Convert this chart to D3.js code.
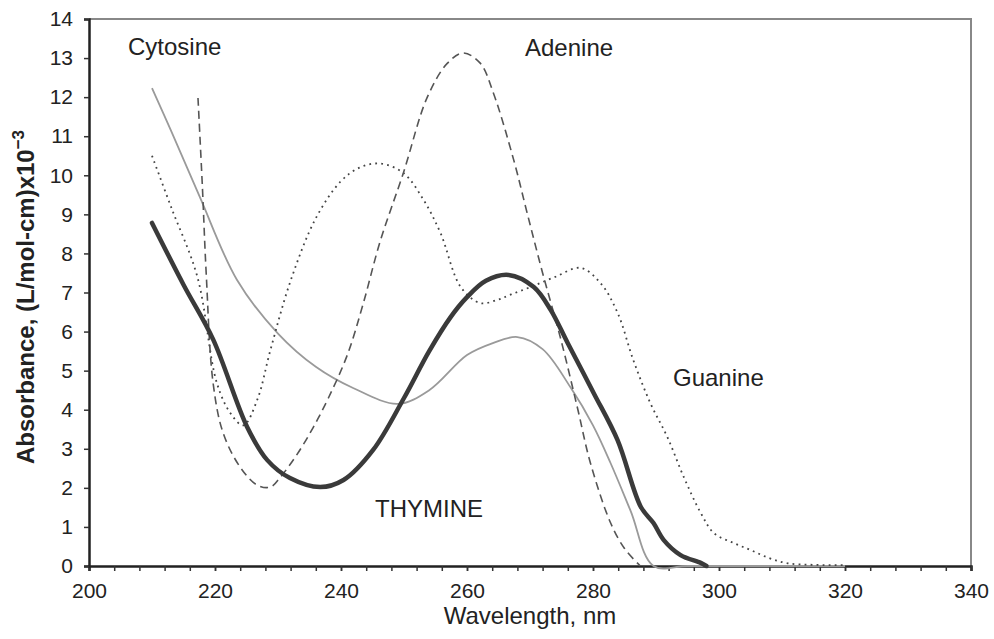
<!DOCTYPE html>
<html>
<head>
<meta charset="UTF-8">
<style>
  body { margin: 0; background: #fff; }
  svg { font-family: "Liberation Sans", Arial, sans-serif; }
  .lbl { font-size: 24px; fill: #222; }
</style>
</head>
<body>
<svg></svg>
<script src="https://d3js.org/d3.v7.min.js"></script>
<script>
// wavelength (nm) / absorbance (x10^-3)
let cytosineX = [210, 213, 217.6, 223.5, 230, 236, 242, 249, 254, 260, 264, 268, 272, 276.4, 280, 282.8, 286, 289.6, 295, 305, 320];
let cytosineY = [12.23, 11.15, 9.44, 7.32, 5.95, 5.1, 4.55, 4.15, 4.5, 5.4, 5.7, 5.86, 5.55, 4.58, 3.6, 2.63, 1.4, 0, 0, 0, 0];

let thymineX = [210, 215, 219.7, 225.1, 228.3, 231.9, 236.7, 240.4, 245.1, 250, 254, 257.4, 260, 263, 266.6, 270.6, 273.3, 276, 280.1, 283.9, 287.6, 289.6, 291.2, 293.9, 297.1, 298];
let thymineY = [8.78, 7.2, 5.8, 3.56, 2.71, 2.25, 2.02, 2.2, 2.97, 4.3, 5.5, 6.37, 6.88, 7.3, 7.45, 7.14, 6.55, 5.7, 4.43, 3.22, 1.51, 1.1, 0.67, 0.28, 0.08, 0];

let adenineX = [217.3, 218, 218.6, 219.7, 221.3, 224, 226.7, 228.8, 230.4, 233, 235.6, 238, 241, 243.5, 246.2, 249.9, 253.7, 256.9, 259.4, 262.1, 264.2, 267.4, 269.6, 272, 274.8, 277.5, 279.6, 282.8, 285, 287.5];
let adenineY = [11.98, 9.7, 7.5, 4.68, 3.4, 2.53, 2.07, 2.02, 2.28, 2.85, 3.55, 4.3, 5.4, 6.7, 8.3, 10.06, 12.0, 12.87, 13.13, 12.87, 12.1, 10.4, 9.0, 7.5, 5.86, 4.07, 2.63, 1.1, 0.45, 0];

let guanineX = [210, 213, 217.2, 220.3, 222.5, 224.5, 226.7, 228.8, 232, 236, 240, 243, 246.2, 249.9, 253.1, 255.8, 259, 262.1, 264.8, 267, 270.1, 274, 278, 281.2, 283.9, 286.4, 289.1, 291.8, 294.4, 297.1, 299.2, 302.3, 305, 308, 310.9, 315, 320];
let guanineY = [10.5, 9.2, 7.4, 4.68, 3.9, 3.6, 4.25, 5.53, 7.3, 8.9, 9.85, 10.2, 10.3, 10.06, 9.37, 8.52, 7.14, 6.73, 6.81, 6.95, 7.14, 7.4, 7.63, 7.24, 6.48, 5.27, 4.17, 3.3, 2.28, 1.36, 0.84, 0.59, 0.41, 0.2, 0.07, 0.03, 0.02];

let xTicks = [200, 220, 240, 260, 280, 300, 320, 340];
let yTicks = d3.range(0, 15);

let width = 994, height = 639;
let margin = { left: 89, right: 23, top: 19, bottom: 73 };

let svg = d3.select("svg").attr("width", width).attr("height", height);

let x = d3.scaleLinear().domain([200, 340]).range([margin.left, width - margin.right]);
let y = d3.scaleLinear().domain([0, 14]).range([height - margin.bottom, margin.top]);

// frame (top/right lighter)
svg.append("path")
    .attr("d", "M" + x(200) + "," + y(14) + "H" + x(340) + "V" + y(0))
    .attr("fill", "none").attr("stroke", "#888").attr("stroke-width", 2);

// axes
svg.append("g")
    .attr("transform", "translate(0," + y(0) + ")")
    .call(d3.axisBottom(x).tickValues(xTicks).tickSize(5).tickPadding(12));
svg.append("g")
    .attr("transform", "translate(0," + y(0) + ")")
    .call(d3.axisBottom(x).tickValues(d3.range(200, 341, 4)).tickSize(5).tickFormat(""))
    .call(g => g.select(".domain").remove());
svg.append("g")
    .attr("transform", "translate(" + x(200) + ",0)")
    .call(d3.axisLeft(y).tickValues(yTicks).tickSize(5).tickPadding(11));

svg.selectAll(".domain").attr("stroke", "#222").attr("stroke-width", 2.5);
svg.selectAll(".tick line").attr("stroke", "#333").attr("stroke-width", 1.5);
svg.selectAll(".tick text").attr("font-size", 21).attr("fill", "#222")
    .attr("font-family", "Liberation Sans, Arial, sans-serif");

let line = d3.line()
    .x(d => x(d[0])).y(d => y(d[1]))
    .curve(d3.curveCatmullRom.alpha(0.5));

function series(xs, ys) { return xs.map((v, i) => [v, ys[i]]); }

svg.append("path").datum(series(cytosineX, cytosineY))
    .attr("d", line).attr("fill", "none").attr("stroke", "#9a9a9a").attr("stroke-width", 1.8);

svg.append("path").datum(series(guanineX, guanineY))
    .attr("d", line).attr("fill", "none").attr("stroke", "#444")
    .attr("stroke-width", 1.8).attr("stroke-dasharray", "1.8,4.2");

svg.append("path").datum(series(adenineX, adenineY))
    .attr("d", line).attr("fill", "none").attr("stroke", "#555")
    .attr("stroke-width", 1.6).attr("stroke-dasharray", "8,5");

svg.append("path").datum(series(thymineX, thymineY))
    .attr("d", line).attr("fill", "none").attr("stroke", "#3a3a3a").attr("stroke-width", 4.5)
    .attr("stroke-linecap", "round");

// curve labels
svg.append("text").attr("class", "lbl").attr("x", 128).attr("y", 55).text("Cytosine");
svg.append("text").attr("class", "lbl").attr("x", 525).attr("y", 56).text("Adenine");
svg.append("text").attr("class", "lbl").attr("x", 673).attr("y", 386).text("Guanine");
svg.append("text").attr("class", "lbl").attr("x", 375).attr("y", 517).text("THYMINE");

// axis titles
svg.append("text").attr("class", "lbl")
    .attr("x", (x(200) + x(340)) / 2).attr("y", 624).attr("text-anchor", "middle")
    .text("Wavelength, nm");

let yt = svg.append("text").attr("class", "lbl")
    .attr("transform", "translate(34,297) rotate(-90)")
    .attr("text-anchor", "middle").attr("font-weight", "bold");
yt.append("tspan").text("Absorbance, (L/mol-cm)x10");
yt.append("tspan").attr("dy", -10).attr("font-size", 17).text("−3");
</script>
</body>
</html>
